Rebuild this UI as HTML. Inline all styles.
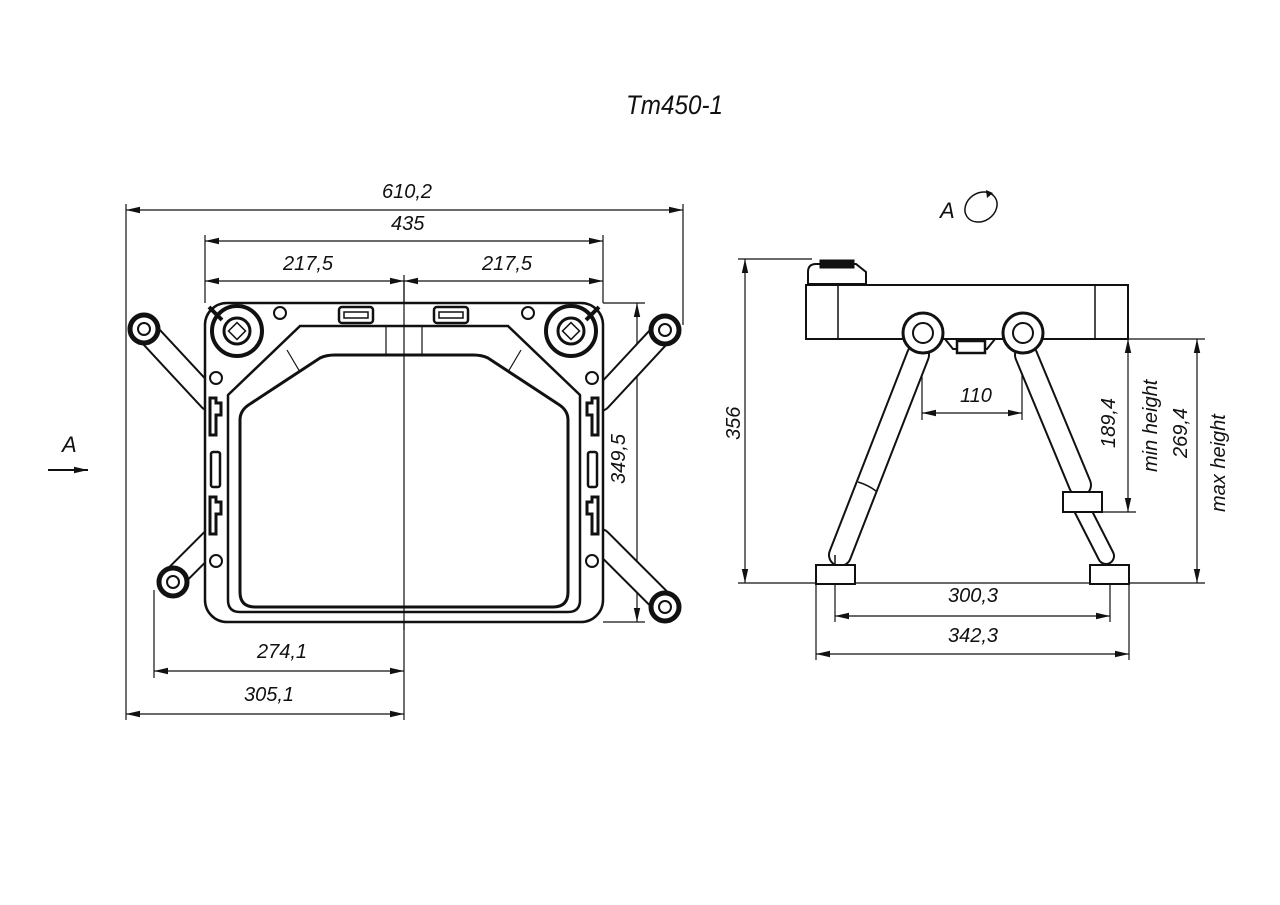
<!DOCTYPE html>
<html><head><meta charset="utf-8"><style>
html,body{margin:0;padding:0;background:#fff;}
svg{display:block;}
text{font-family:"Liberation Sans Narrow","Liberation Sans",sans-serif;font-style:italic;fill:#111;}
</style></head><body>
<svg width="1280" height="905" viewBox="0 0 1280 905" xmlns="http://www.w3.org/2000/svg">
<defs>
<marker id="a" markerWidth="14" markerHeight="8" refX="14" refY="4" orient="auto-start-reverse" markerUnits="userSpaceOnUse"><path d="M0,0.8 L14,4 L0,7.2Z" fill="#111"/></marker>
</defs>
<text x="626" y="114" font-size="27" textLength="97" lengthAdjust="spacingAndGlyphs">Tm450-1</text>

<g stroke="#111" stroke-width="1.2" fill="none">
<line x1="126" y1="204" x2="126" y2="720"/>
<line x1="683" y1="204" x2="683" y2="325"/>
<line x1="205" y1="235" x2="205" y2="303"/>
<line x1="603" y1="235" x2="603" y2="303"/>
<line x1="404" y1="275" x2="404" y2="720"/>
<line x1="154" y1="590" x2="154" y2="678"/>
<line x1="126" y1="210" x2="683" y2="210" marker-start="url(#a)" marker-end="url(#a)"/>
<line x1="205" y1="241" x2="603" y2="241" marker-start="url(#a)" marker-end="url(#a)"/>
<line x1="205" y1="281" x2="404" y2="281" marker-start="url(#a)" marker-end="url(#a)"/>
<line x1="404" y1="281" x2="603" y2="281" marker-start="url(#a)" marker-end="url(#a)"/>
<line x1="154" y1="671" x2="404" y2="671" marker-start="url(#a)" marker-end="url(#a)"/>
<line x1="126" y1="714" x2="404" y2="714" marker-start="url(#a)" marker-end="url(#a)"/>
<line x1="603" y1="303" x2="645" y2="303"/>
<line x1="603" y1="622" x2="645" y2="622"/>
<line x1="637" y1="303" x2="637" y2="622" marker-start="url(#a)" marker-end="url(#a)"/>
<line x1="48" y1="470" x2="88" y2="470" stroke-width="2" marker-end="url(#a)"/>
</g>
<text x="382" y="198" font-size="20">610,2</text>
<text x="391" y="230" font-size="20">435</text>
<text x="283" y="270" font-size="20">217,5</text>
<text x="482" y="270" font-size="20">217,5</text>
<text x="257" y="658" font-size="20">274,1</text>
<text x="244" y="701" font-size="20">305,1</text>
<text x="62" y="452" font-size="22">A</text>
<text transform="translate(625,484) rotate(-90)" font-size="20">349,5</text>

<g stroke-linecap="round">
<line x1="145" y1="330" x2="210" y2="400" stroke="#111" stroke-width="24"/>
<line x1="145" y1="330" x2="210" y2="400" stroke="#fff" stroke-width="20"/>
<line x1="170" y1="582" x2="212" y2="540" stroke="#111" stroke-width="24"/>
<line x1="170" y1="582" x2="212" y2="540" stroke="#fff" stroke-width="20"/>
<line x1="665" y1="330" x2="600" y2="400" stroke="#111" stroke-width="24"/>
<line x1="665" y1="330" x2="600" y2="400" stroke="#fff" stroke-width="20"/>
<line x1="665" y1="605" x2="600" y2="540" stroke="#111" stroke-width="24"/>
<line x1="665" y1="605" x2="600" y2="540" stroke="#fff" stroke-width="20"/>
</g>
<g stroke="#111" fill="#fff">
<circle cx="144" cy="329" r="14" stroke-width="5"/><circle cx="144" cy="329" r="6" stroke-width="2"/>
<circle cx="173" cy="582" r="14" stroke-width="5"/><circle cx="173" cy="582" r="6" stroke-width="2"/>
<circle cx="665" cy="330" r="14" stroke-width="5"/><circle cx="665" cy="330" r="6" stroke-width="2"/>
<circle cx="665" cy="607" r="14" stroke-width="5"/><circle cx="665" cy="607" r="6" stroke-width="2"/>
</g>

<g stroke="#111" fill="none">
<rect x="205" y="303" width="398" height="319" rx="22" stroke-width="2.5" fill="#fff"/>
<path d="M228,600 L228,395 L300,326 L508,326 L580,395 L580,600 Q580,612 568,612 L240,612 Q228,612 228,600Z" stroke-width="2.5"/>
<path d="M240,592 L240,420 Q240,410 250,404 L320,358 Q326,355 335,355 L473,355 Q482,355 488,358 L558,404 Q568,410 568,420 L568,592 Q568,607 553,607 L255,607 Q240,607 240,592Z" stroke-width="3"/>
<line x1="404" y1="280" x2="404" y2="630" stroke-width="1.2"/>
<line x1="386" y1="326" x2="386" y2="355" stroke-width="1.2"/>
<line x1="422" y1="326" x2="422" y2="355" stroke-width="1.2"/>
<line x1="287" y1="350" x2="300" y2="372" stroke-width="1.2"/>
<line x1="521" y1="350" x2="508" y2="372" stroke-width="1.2"/>
<rect x="339" y="307" width="34" height="16" rx="3" stroke-width="2.5"/>
<rect x="344" y="312" width="24" height="6" stroke-width="1.5"/>
<rect x="434" y="307" width="34" height="16" rx="3" stroke-width="2.5"/>
<rect x="439" y="312" width="24" height="6" stroke-width="1.5"/>
<circle cx="280" cy="313" r="6" stroke-width="2"/>
<circle cx="528" cy="313" r="6" stroke-width="2"/>
<circle cx="216" cy="378" r="6" stroke-width="2"/>
<circle cx="216" cy="561" r="6" stroke-width="2"/>
<circle cx="592" cy="378" r="6" stroke-width="2"/>
<circle cx="592" cy="561" r="6" stroke-width="2"/>
<path d="M210,398 h6 v5 h5 v12 h-5 v20 h-6Z" stroke-width="3"/>
<path d="M210,497 h6 v5 h5 v12 h-5 v20 h-6Z" stroke-width="3"/>
<rect x="211" y="452" width="9" height="35" rx="2" stroke-width="2.5"/>
<path d="M598,398 h-6 v5 h-5 v12 h5 v20 h6Z" stroke-width="3"/>
<path d="M598,497 h-6 v5 h-5 v12 h5 v20 h6Z" stroke-width="3"/>
<rect x="588" y="452" width="9" height="35" rx="2" stroke-width="2.5"/>
<circle cx="237" cy="331" r="25" stroke-width="4" fill="#fff"/>
<circle cx="237" cy="331" r="13" stroke-width="3"/>
<rect x="231" y="325" width="12" height="12" transform="rotate(45 237 331)" stroke-width="1.5"/>
<circle cx="571" cy="331" r="25" stroke-width="4" fill="#fff"/>
<circle cx="571" cy="331" r="13" stroke-width="3"/>
<rect x="565" y="325" width="12" height="12" transform="rotate(45 571 331)" stroke-width="1.5"/>
<line x1="209" y1="307" x2="222" y2="320" stroke-width="4"/>
<line x1="599" y1="307" x2="586" y2="320" stroke-width="4"/>
</g>

<g stroke="#111" fill="none" stroke-width="1.2">
<line x1="738" y1="259" x2="812" y2="259"/>
<line x1="745" y1="259" x2="745" y2="583" marker-start="url(#a)" marker-end="url(#a)"/>
<line x1="738" y1="583" x2="1205" y2="583"/>
<line x1="1128" y1="339" x2="1205" y2="339"/>
<line x1="1095" y1="512" x2="1136" y2="512"/>
<line x1="1128" y1="339" x2="1128" y2="512" marker-start="url(#a)" marker-end="url(#a)"/>
<line x1="1197" y1="339" x2="1197" y2="583" marker-start="url(#a)" marker-end="url(#a)"/>
<line x1="922" y1="345" x2="922" y2="420"/>
<line x1="1022" y1="345" x2="1022" y2="420"/>
<line x1="922" y1="413" x2="1022" y2="413" marker-start="url(#a)" marker-end="url(#a)"/>
<line x1="835" y1="560" x2="835" y2="622"/>
<line x1="1110" y1="560" x2="1110" y2="622"/>
<line x1="816" y1="584" x2="816" y2="660"/>
<line x1="1129" y1="584" x2="1129" y2="660"/>
<line x1="835" y1="616" x2="1110" y2="616" marker-start="url(#a)" marker-end="url(#a)"/>
<line x1="816" y1="654" x2="1129" y2="654" marker-start="url(#a)" marker-end="url(#a)"/>
</g>
<text x="960" y="402" font-size="20">110</text>
<text x="948" y="602" font-size="20">300,3</text>
<text x="948" y="642" font-size="20">342,3</text>
<text transform="translate(740,440) rotate(-90)" font-size="20">356</text>
<text transform="translate(1115,448) rotate(-90)" font-size="20">189,4</text>
<text transform="translate(1157,472) rotate(-90)" font-size="20">min height</text>
<text transform="translate(1187,458) rotate(-90)" font-size="20">269,4</text>
<text transform="translate(1225,512) rotate(-90)" font-size="20">max height</text>
<text x="940" y="218" font-size="22">A</text>
<ellipse cx="981" cy="207" rx="17" ry="14" transform="rotate(-35 981 207)" stroke="#111" stroke-width="1.5" fill="none"/>
<path d="M986,190 l7,3 l-6,5Z" fill="#111"/>

<g stroke-linecap="round">
<line x1="918" y1="355" x2="840" y2="555" stroke="#111" stroke-width="24"/>
<line x1="918" y1="355" x2="840" y2="555" stroke="#fff" stroke-width="20"/>
<line x1="1026" y1="355" x2="1080" y2="485" stroke="#111" stroke-width="24"/>
<line x1="1026" y1="355" x2="1080" y2="485" stroke="#fff" stroke-width="20"/>
<line x1="1080" y1="505" x2="1106" y2="556" stroke="#111" stroke-width="18"/>
<line x1="1080" y1="505" x2="1106" y2="556" stroke="#fff" stroke-width="14"/>
</g>
<g stroke="#111" fill="#fff">
<rect x="806" y="285" width="322" height="54" stroke-width="2"/>
<line x1="838" y1="285" x2="838" y2="339" stroke-width="1.5"/>
<line x1="1095" y1="285" x2="1095" y2="339" stroke-width="1.5"/>
<path d="M808,284 v-12 q0,-8 8,-8 h40 l10,8 v12Z" stroke-width="2"/>
<rect x="820" y="260" width="34" height="8" fill="#111"/>
<path d="M945,339 h50 l-8,10 h-34Z" stroke-width="2"/>
<rect x="957" y="341" width="28" height="12" stroke-width="2.5"/>
<circle cx="923" cy="333" r="20" stroke-width="3"/>
<circle cx="923" cy="333" r="10" stroke-width="2"/>
<circle cx="1023" cy="333" r="20" stroke-width="3"/>
<circle cx="1023" cy="333" r="10" stroke-width="2"/>
<rect x="816" y="565" width="39" height="19" stroke-width="2"/>
<rect x="1090" y="565" width="39" height="19" stroke-width="2"/>
<rect x="1063" y="492" width="39" height="20" stroke-width="2"/>
</g>
<g stroke="#111" stroke-width="1.5" fill="none">
<path d="M858,482 q10,3 18,9"/>
<line x1="835" y1="565" x2="835" y2="555"/>
</g>
</svg>
</body></html>
